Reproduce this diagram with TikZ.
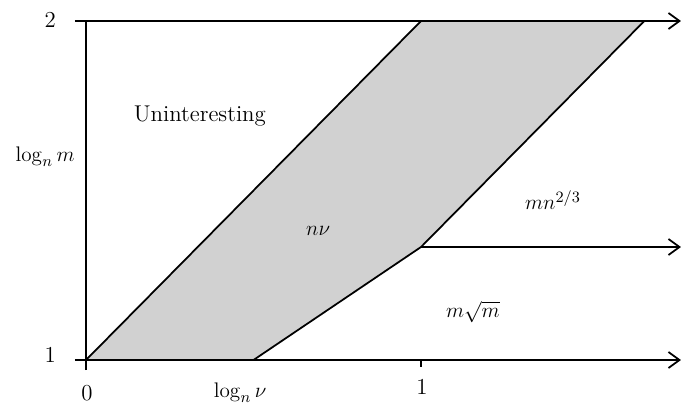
\documentclass[tikz,border=0pt]{standalone}
\usetikzlibrary{arrows.meta}
\tikzset{
    axis/.style={line width=1pt, -{Straight Barb[length=2.2mm,width=3.2mm]}},
    bound/.style={line width=1pt},
    region/.style={fill=black!18, draw=none},
    lbl/.style={font=\fontsize{13}{15}\selectfont, inner sep=1pt}
}
\begin{document}
\begin{tikzpicture}[x=6.7cm, y=6.78cm]
    \useasboundingbox (-0.2567,0.8643) rectangle (1.7761,2.062);

    % Corner points
    \coordinate (o) at (0,1);
    \coordinate (tl) at (1,2);
    \coordinate (tr) at (5/3,2);
    \coordinate (kink) at (1,4/3);
    \coordinate (bh) at (1/2,1);
    \coordinate (top) at (0,2);
    \coordinate (xs) at (-0.033,1);
    \coordinate (ys) at (0,0.97);
    \coordinate (ts) at (-0.033,2);
    \coordinate (xe) at (1.776,1);
    \coordinate (me) at (1.776,4/3);
    \coordinate (te) at (1.776,2);
    \coordinate (tick) at (1,0.98);
    \coordinate (tickend) at (1,1);

    % Shaded region
    \fill[region] (o) -- (tl) -- (tr) -- (kink) -- (bh) -- cycle;

    % Boundaries
    \draw[bound] (o) -- (tl);
    \draw[bound] (bh) -- (kink) -- (tr);
    \draw[bound] (ys) -- (top);
    \draw[bound] (tick) -- (tickend);

    % Axes and arrows
    \draw[axis] (xs) -- (xe);
    \draw[axis] (kink) -- (me);
    \draw[axis] (ts) -- (te);

    % Labels
    \node[lbl] (two) at (-0.107,2.003) {2};
    \node[lbl] (one) at (-0.107,1.015) {1};
    \node[lbl] (logm) at (-0.122,1.599) {$\log_n m$};
    \node[lbl] (zero) at (0.003,0.903) {0};
    \node[lbl] (onex) at (1.003,0.920) {1};
    \node[lbl] (logv) at (0.46,0.903) {$\log_n \nu$};
    \node[lbl] (unint) at (0.340,1.720) {Uninteresting};
    \node[lbl] (nv) at (0.693,1.381) {$n\nu$};
    \node[lbl] (mn) at (1.394,1.472) {$mn^{2/3}$};
    \node[lbl] (msq) at (1.155,1.142) {$m\sqrt{m}$};

\end{tikzpicture}
\end{document}
